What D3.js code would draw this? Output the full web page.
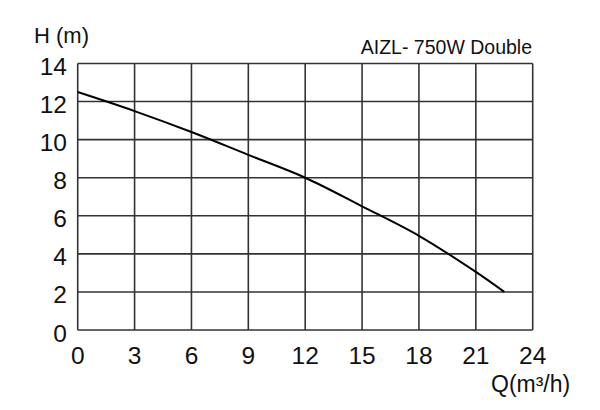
<!DOCTYPE html>
<html><head><meta charset="utf-8">
<script src="https://cdn.jsdelivr.net/npm/d3@7"></script>
<style>body{margin:0;background:#fff}svg{display:block}text{font-family:"Liberation Sans",Arial,sans-serif;fill:#111}</style>
</head><body><svg id="c" width="600" height="410"></svg>
<script>
const flow = [0, 3, 6, 9, 12, 15, 18, 21, 22.5];
const head = [12.5, 11.5, 10.4, 9.2, 8.0, 6.5, 4.95, 3.05, 2.0];
const xTicks = [0, 3, 6, 9, 12, 15, 18, 21, 24];
const yTicks = [0, 2, 4, 6, 8, 10, 12, 14];
const title = "AIZL- 750W Double";
const yLabel = "H (m)";
const xLabel = "Q(m³/h)";

const svg = d3.select("#c");
const L = 77.7, R = 532.7, T = 63.5, B = 330;
const x = d3.scaleLinear().domain([0, 24]).range([L, R]);
const y = d3.scaleLinear().domain([0, 14]).range([B, T]);

const grid = svg.append("g").attr("stroke", "#333").attr("stroke-width", 1.6);
grid.selectAll(".vx").data(xTicks).join("line")
  .attr("x1", d => x(d)).attr("x2", d => x(d)).attr("y1", y(14)).attr("y2", y(0));
grid.selectAll(".hy").data(yTicks).join("line")
  .attr("y1", d => y(d)).attr("y2", d => y(d)).attr("x1", x(0)).attr("x2", x(24));

svg.append("g").selectAll("text").data(yTicks).join("text")
  .attr("x", 67).attr("y", d => y(d) + 11.5).attr("text-anchor", "end")
  .attr("font-size", 24.5).text(d => d);
svg.append("g").selectAll("text").data(xTicks).join("text")
  .attr("x", d => x(d)).attr("y", 363.5).attr("text-anchor", "middle")
  .attr("font-size", 24.5).text(d => d);

const pts = flow.map((q, i) => [q, head[i]]);
svg.append("path").datum(pts)
  .attr("fill", "none").attr("stroke", "#000").attr("stroke-width", 2)
  .attr("d", d3.line().x(d => x(d[0])).y(d => y(d[1])).curve(d3.curveCatmullRom));

svg.append("text").attr("x", 532).attr("y", 54).attr("text-anchor", "end")
  .attr("font-size", 19.5).text(title);
svg.append("text").attr("x", 34).attr("y", 42.5).attr("font-size", 22).text(yLabel);
svg.append("text").attr("x", 491).attr("y", 391.5).attr("font-size", 23).text(xLabel);
</script></body></html>
